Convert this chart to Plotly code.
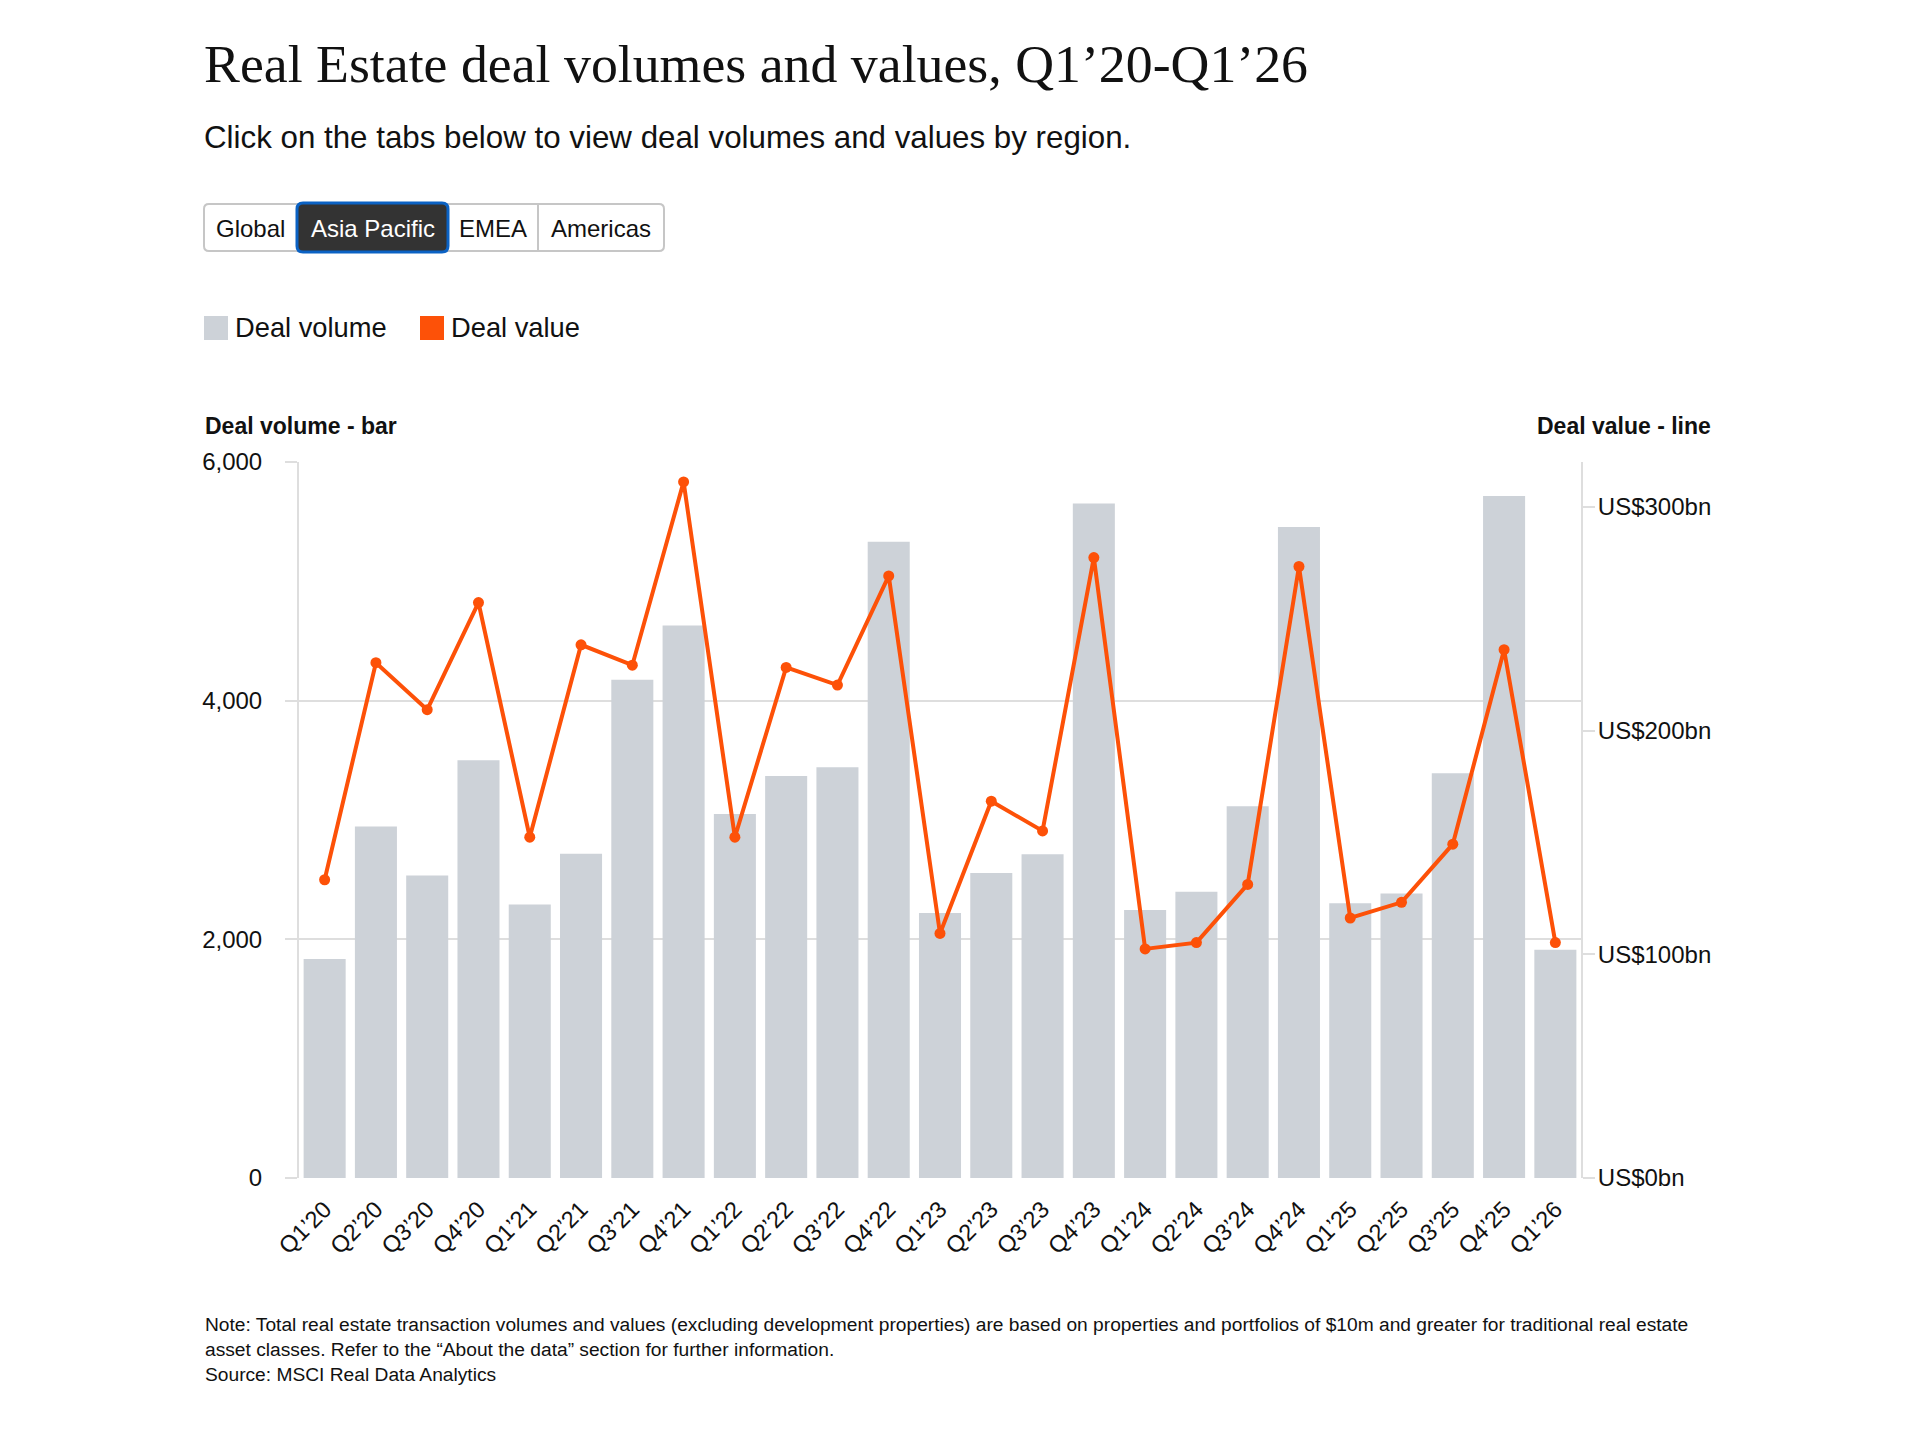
import plotly.graph_objects as go

quarters = ["Q1’20", "Q2’20", "Q3’20", "Q4’20", "Q1’21", "Q2’21", "Q3’21", "Q4’21",
            "Q1’22", "Q2’22", "Q3’22", "Q4’22", "Q1’23", "Q2’23", "Q3’23", "Q4’23",
            "Q1’24", "Q2’24", "Q3’24", "Q4’24", "Q1’25", "Q2’25", "Q3’25", "Q4’25", "Q1’26"]

# deal volume (number of deals) - bars, left axis
deal_volume = [1835, 2945, 2534, 3500, 2292, 2717, 4175, 4630,
               3050, 3368, 3442, 5332, 2220, 2556, 2714, 5652,
               2245, 2398, 3115, 5455, 2302, 2385, 3392, 5716, 1912]

# deal value (US$bn) - line, right axis
deal_value = [133.3, 230.3, 209.3, 257.2, 152.3, 238.3, 229.2, 311.1,
              152.3, 228.2, 220.3, 269.1, 109.3, 168.4, 155.1, 277.3,
              102.4, 105.2, 131.2, 273.3, 116.2, 123.2, 149.2, 236.1, 105.2]

left_ticks = [0, 2000, 4000, 6000]
right_ticks = [0, 100, 200, 300]
right_labels = ["US$%dbn" % v for v in right_ticks]
tabs = ["Global", "Asia Pacific", "EMEA", "Americas"]

BAR_COLOR = "#cdd2d8"
LINE_COLOR = "#fd5108"
GRID = "#dedede"
FONT = "Liberation Sans"

# the page body has an 8px margin, so the figure starts at (8, 8)
OFF = 8
W, H = 1920 - OFF, 1456 - OFF

# plot area in page pixels
PL, PR, PT, PB = 299, 1581, 462, 1178


def px(x):
    return (x - PL) / (PR - PL)


def py(y):
    return (PB - y) / (PB - PT)


def rounded_rect(x0, y0, x1, y1, r):
    # svg path in paper coords for a rectangle with rounded corners (page px in)
    pts = [
        "M %f,%f" % (px(x0 + r), py(y0)),
        "L %f,%f" % (px(x1 - r), py(y0)),
        "Q %f,%f %f,%f" % (px(x1), py(y0), px(x1), py(y0 + r)),
        "L %f,%f" % (px(x1), py(y1 - r)),
        "Q %f,%f %f,%f" % (px(x1), py(y1), px(x1 - r), py(y1)),
        "L %f,%f" % (px(x0 + r), py(y1)),
        "Q %f,%f %f,%f" % (px(x0), py(y1), px(x0), py(y1 - r)),
        "L %f,%f" % (px(x0), py(y0 + r)),
        "Q %f,%f %f,%f" % (px(x0), py(y0), px(x0 + r), py(y0)),
        "Z",
    ]
    return " ".join(pts)


fig = go.Figure()

fig.add_trace(go.Bar(
    x=quarters, y=deal_volume, name="Deal volume",
    marker=dict(color=BAR_COLOR, line=dict(width=0)),
    hovertemplate="%{x}<br>%{y:,}<extra></extra>",
))

fig.add_trace(go.Scatter(
    x=quarters, y=deal_value, name="Deal value", yaxis="y2",
    mode="lines+markers",
    line=dict(color=LINE_COLOR, width=4),
    marker=dict(color=LINE_COLOR, size=11),
    hovertemplate="%{x}<br>US$%{y}bn<extra></extra>",
))

shapes = []
annotations = []

# title + subtitle
annotations.append(dict(
    text="Real Estate deal volumes and values, Q1’20-Q1’26",
    x=px(202), y=py(64), xref="paper", yref="paper", xanchor="left", yanchor="middle",
    showarrow=False, font=dict(family="Liberation Serif", size=53.8, color="#111111"),
))
annotations.append(dict(
    text="Click on the tabs below to view deal volumes and values by region.",
    x=px(202), y=py(137), xref="paper", yref="paper", xanchor="left", yanchor="middle",
    showarrow=False, font=dict(family=FONT, size=31.3, color="#111111"),
))

# tabs
tab_edges = [204, 297, 448, 538, 664]
shapes.append(dict(type="path", xref="paper", yref="paper",
                   path=rounded_rect(204, 204, 664, 251, 5),
                   line=dict(color="#c6c6c6", width=2), fillcolor="white", layer="above"))
shapes.append(dict(type="line", xref="paper", yref="paper",
                   x0=px(538), x1=px(538), y0=py(251), y1=py(204),
                   line=dict(color="#c6c6c6", width=2), layer="above"))
shapes.append(dict(type="path", xref="paper", yref="paper",
                   path=rounded_rect(297, 203, 448, 252, 6),
                   line=dict(color="#0b62c4", width=3), fillcolor="#333333", layer="above"))
for i, name in enumerate(tabs):
    annotations.append(dict(
        text=name, x=px((tab_edges[i] + tab_edges[i + 1]) / 2), y=py(228),
        xref="paper", yref="paper", xanchor="center", yanchor="middle", showarrow=False,
        font=dict(family=FONT, size=24, color="white" if name == "Asia Pacific" else "#111111"),
    ))

# legend
for x0, color, label in [(204, BAR_COLOR, "Deal volume"), (420, LINE_COLOR, "Deal value")]:
    shapes.append(dict(type="rect", xref="paper", yref="paper",
                       x0=px(x0), x1=px(x0 + 24), y0=py(340), y1=py(316),
                       line=dict(width=0), fillcolor=color))
    annotations.append(dict(
        text=label, x=px(x0 + 29), y=py(328), xref="paper", yref="paper",
        xanchor="left", yanchor="middle", showarrow=False,
        font=dict(family=FONT, size=27.3, color="#111111"),
    ))

# axis titles
annotations.append(dict(
    text="<b>Deal volume - bar</b>", x=px(203), y=py(426), xref="paper", yref="paper",
    xanchor="left", yanchor="middle", showarrow=False,
    font=dict(family=FONT, size=23, color="#111111"),
))
annotations.append(dict(
    text="<b>Deal value - line</b>", x=px(1713), y=py(426), xref="paper", yref="paper",
    xanchor="right", yanchor="middle", showarrow=False,
    font=dict(family=FONT, size=23, color="#111111"),
))

# note and source
annotations.append(dict(
    text="Note: Total real estate transaction volumes and values (excluding development properties) are based on properties and portfolios of $10m and greater for traditional real estate"
         "<br>asset classes. Refer to the “About the data” section for further information."
         "<br>Source: MSCI Real Data Analytics",
    x=px(203), y=py(1312), xref="paper", yref="paper", xanchor="left", yanchor="top",
    align="left", showarrow=False,
    font=dict(family=FONT, size=19.2, color="#111111"),
))

fig.update_layout(
    width=W, height=H,
    margin=dict(l=PL - OFF, r=1920 - PR, t=PT - OFF, b=1456 - PB, pad=0),
    paper_bgcolor="white", plot_bgcolor="white",
    font=dict(family=FONT, color="#111111"),
    showlegend=False,
    bargap=0.18,
    shapes=shapes,
    annotations=annotations,
    xaxis=dict(
        type="category", range=[-0.5, len(quarters) - 0.5],
        tickangle=-45, ticks="", showgrid=False, showline=False, zeroline=False,
        tickfont=dict(size=23.5, color="#111111"), ticklabelstandoff=12,
    ),
    yaxis=dict(
        range=[0, 6000], tickvals=left_ticks, tickformat=",",
        showgrid=True, gridcolor=GRID, gridwidth=2, zeroline=False,
        showline=True, linecolor=GRID, linewidth=2,
        ticks="outside", ticklen=12, tickcolor=GRID, tickwidth=2,
        ticklabelstandoff=18, tickfont=dict(size=24, color="#111111"),
    ),
    yaxis2=dict(
        range=[0, 320], tickmode="array", tickvals=right_ticks, ticktext=right_labels,
        overlaying="y", side="right", showgrid=False, zeroline=False,
        showline=True, linecolor=GRID, linewidth=2,
        ticks="outside", ticklen=12, tickcolor=GRID, tickwidth=2,
        ticklabelstandoff=-2, tickfont=dict(size=24, color="#111111"),
    ),
)

fig.write_html("out.html")
